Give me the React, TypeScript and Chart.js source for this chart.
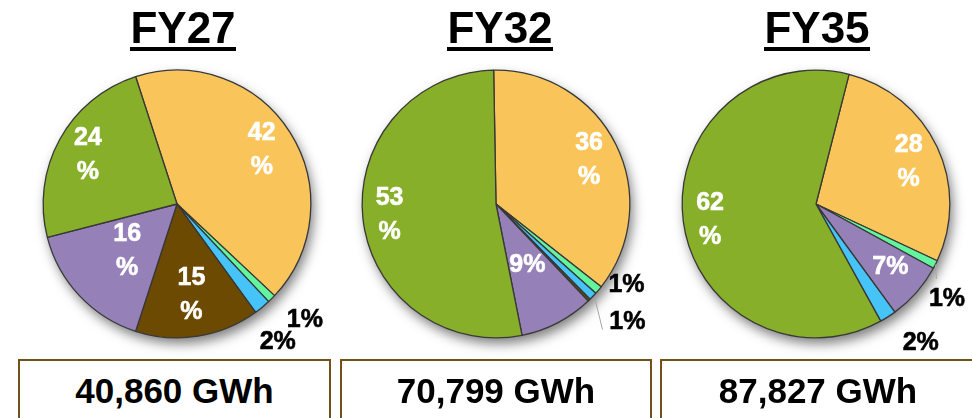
import React, { useEffect, useRef } from "react";
import { Chart, registerables } from "chart.js";

Chart.register(...registerables);

// ---------- data ----------
const yearTitles = ["FY27", "FY32", "FY35"];
const totalGWh = ["40,860 GWh", "70,799 GWh", "87,827 GWh"];

const fy27Categories = ["Yellow", "Mint", "Blue", "Brown", "Purple", "Green"];
const fy27Shares = [42, 1, 2, 15, 16, 24];

const fy32Categories = ["Yellow", "Mint", "Blue", "Brown", "Purple", "Green"];
const fy32Shares = [36, 1, 1, 0.3, 9, 53];

const fy35Categories = ["Yellow", "Mint", "Purple", "Blue", "Green"];
const fy35Shares = [28, 1, 7, 2, 62];

// ---------- styles ----------
const categoryColors: Record<string, string> = {
  Yellow: "#F9C55B",
  Mint: "#63F49E",
  Blue: "#46C3F7",
  Brown: "#6C4A02",
  Purple: "#9581B8",
  Green: "#87AF29",
};

type LabelSpec = { k: number; da: number; color: string; split: boolean } | null;
type LeaderSpec = { i: number; k1: number; da1: number; k2: number; da2: number };

const W = "#ffffff";
const B = "#000000";

const chartConfigs = [
  {
    categories: fy27Categories,
    shares: fy27Shares,
    rotation: -18,
    labels: [
      { k: 0.75, da: 0, color: W, split: true },
      { k: 1.29, da: -2.8, color: B, split: false },
      { k: 1.28, da: 3.6, color: B, split: false },
      { k: 0.69, da: 0, color: W, split: true },
      { k: 0.51, da: 0, color: W, split: true },
      { k: 0.76, da: 0, color: W, split: true },
    ] as LabelSpec[],
    leaders: [] as LeaderSpec[],
  },
  {
    categories: fy32Categories,
    shares: fy32Shares,
    rotation: -1,
    labels: [
      { k: 0.77, da: 1, color: W, split: true },
      { k: 1.15, da: -8, color: B, split: false },
      { k: 1.32, da: -1.6, color: B, split: false },
      null,
      { k: 0.51, da: 0, color: W, split: false },
      { k: 0.8, da: 0, color: W, split: true },
    ] as LabelSpec[],
    leaders: [{ i: 2, k1: 1.02, da1: 0, k2: 1.23, da2: 6.1 }] as LeaderSpec[],
  },
  {
    categories: fy35Categories,
    shares: fy35Shares,
    rotation: 14.3,
    labels: [
      { k: 0.76, da: 1, color: W, split: true },
      { k: 1.21, da: 9.1, color: B, split: false },
      { k: 0.73, da: -0.9, color: W, split: false },
      { k: 1.3, da: -4.5, color: B, split: false },
      { k: 0.8, da: -1.3, color: W, split: true },
    ] as LabelSpec[],
    leaders: [{ i: 1, k1: 1.0, da1: 0, k2: 1.06, da2: 5 }] as LeaderSpec[],
  },
];

const pieCenters = [177, 496, 816];
const FONT = "'Liberation Sans', Arial, Helvetica, sans-serif";

const pieDecor = {
  id: "pieDecor",
  beforeDatasetsDraw(chart: any) {
    const el = chart.getDatasetMeta(0).data[0];
    if (!el) return;
    const { x, y, outerRadius } = el.getProps(["x", "y", "outerRadius"], true);
    const ctx = chart.ctx;
    ctx.save();
    ctx.shadowColor = "rgba(0,0,0,0.5)";
    ctx.shadowBlur = 12;
    ctx.shadowOffsetX = 3;
    ctx.shadowOffsetY = 6;
    ctx.fillStyle = "#ffffff";
    ctx.beginPath();
    ctx.arc(x, y, outerRadius, 0, Math.PI * 2);
    ctx.fill();
    ctx.restore();
  },
  afterDatasetsDraw(chart: any, _args: any, opts: any) {
    const meta = chart.getDatasetMeta(0);
    const values = chart.data.datasets[0].data as number[];
    const ctx = chart.ctx;
    const specs: LabelSpec[] = opts.labels || [];
    const leaders: LeaderSpec[] = opts.leaders || [];
    const rad = Math.PI / 180;

    ctx.save();
    leaders.forEach((ld) => {
      const el = meta.data[ld.i];
      if (!el) return;
      const { x, y, startAngle, endAngle, outerRadius } = el.getProps(
        ["x", "y", "startAngle", "endAngle", "outerRadius"],
        true
      );
      const mid = (startAngle + endAngle) / 2;
      const a1 = mid + ld.da1 * rad;
      const a2 = mid + ld.da2 * rad;
      ctx.strokeStyle = "#a6a6a6";
      ctx.lineWidth = 1;
      ctx.beginPath();
      ctx.moveTo(x + Math.cos(a1) * outerRadius * ld.k1, y + Math.sin(a1) * outerRadius * ld.k1);
      ctx.lineTo(x + Math.cos(a2) * outerRadius * ld.k2, y + Math.sin(a2) * outerRadius * ld.k2);
      ctx.stroke();
    });

    ctx.font = `bold 25px ${FONT}`;
    ctx.textAlign = "center";
    ctx.textBaseline = "middle";
    meta.data.forEach((el: any, i: number) => {
      const spec = specs[i];
      if (!spec) return;
      const { x, y, startAngle, endAngle, outerRadius } = el.getProps(
        ["x", "y", "startAngle", "endAngle", "outerRadius"],
        true
      );
      const mid = (startAngle + endAngle) / 2 + spec.da * rad;
      const px = x + Math.cos(mid) * outerRadius * spec.k;
      const py = y + Math.sin(mid) * outerRadius * spec.k;
      const num = String(Math.round(values[i]));
      ctx.fillStyle = spec.color;
      ctx.strokeStyle = spec.color;
      ctx.lineWidth = 0.6;
      if (spec.split) {
        ctx.fillText(num, px, py - 17);
        ctx.strokeText(num, px, py - 17);
        ctx.fillText("%", px, py + 17);
        ctx.strokeText("%", px, py + 17);
      } else {
        ctx.fillText(num + "%", px, py);
        ctx.strokeText(num + "%", px, py);
      }
    });
    ctx.restore();
  },
};

function PieCanvas({ idx }: { idx: number }) {
  const ref = useRef<HTMLCanvasElement | null>(null);
  useEffect(() => {
    if (!ref.current) return;
    const cfg = chartConfigs[idx];
    const chart = new Chart(ref.current, {
      type: "pie",
      data: {
        labels: cfg.categories,
        datasets: [
          {
            data: cfg.shares,
            backgroundColor: cfg.categories.map((c) => categoryColors[c]),
            borderColor: "#383838",
            borderWidth: 1.3,
            hoverOffset: 0,
          },
        ],
      },
      options: {
        responsive: false,
        animation: false,
        events: [],
        rotation: cfg.rotation,
        layout: { padding: { left: 25.5, right: 25.5, top: 69.5, bottom: 79.5 } },
        plugins: {
          legend: { display: false },
          tooltip: { enabled: false },
          pieDecor: { labels: cfg.labels, leaders: cfg.leaders },
        } as any,
      },
      plugins: [pieDecor],
    });
    return () => chart.destroy();
  }, [idx]);
  return (
    <canvas
      ref={ref}
      width={320}
      height={418}
      style={{ position: "absolute", left: pieCenters[idx] - 160, top: 0, width: 320, height: 418 }}
    />
  );
}

const titleCenters = [183, 500, 817];
const boxes = [
  { left: 18, width: 313 },
  { left: 340, width: 312 },
  { left: 660, width: 316 },
];

export default function App() {
  return (
    <div
      style={{
        position: "absolute",
        left: 0,
        top: 0,
        width: 972,
        height: 418,
        overflow: "hidden",
        background: "#ffffff",
        fontFamily: FONT,
      }}
    >
      {[0, 1, 2].map((i) => (
        <PieCanvas key={"c" + i} idx={i} />
      ))}
      {yearTitles.map((t, i) => (
        <div
          key={"t" + i}
          style={{
            position: "absolute",
            left: titleCenters[i] - 100,
            width: 200,
            top: 6,
            textAlign: "center",
          }}
        >
          <span
            style={{
              display: "inline-block",
              height: 41,
              lineHeight: "44px",
              fontSize: 44,
              fontWeight: "bold",
              color: "#000",
              borderBottom: "4px solid #000",
            }}
          >
            {t}
          </span>
        </div>
      ))}
      {totalGWh.map((t, i) => (
        <div
          key={"b" + i}
          style={{
            position: "absolute",
            left: boxes[i].left,
            top: 359,
            width: boxes[i].width,
            height: 70,
            boxSizing: "border-box",
            border: "2px solid #6f5119",
            background: "#ffffff",
          }}
        >
          <div
            style={{
              position: "absolute",
              left: 0,
              right: 0,
              top: 12,
              lineHeight: "35px",
              fontSize: 35,
              fontWeight: "bold",
              textAlign: "center",
              color: "#000",
            }}
          >
            {t}
          </div>
        </div>
      ))}
    </div>
  );
}
